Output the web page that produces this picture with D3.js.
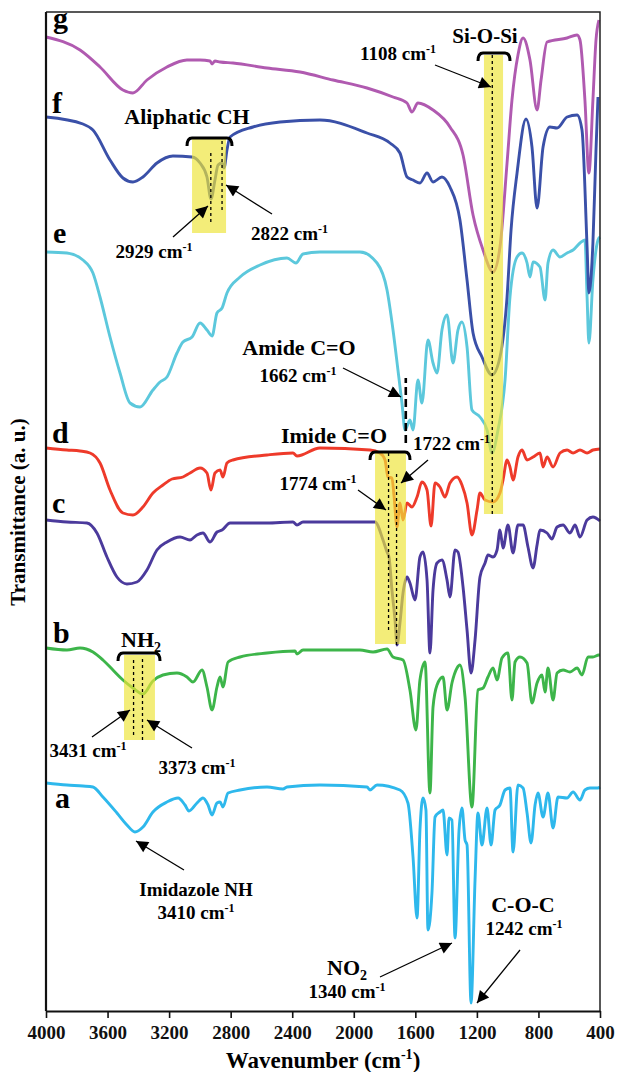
<!DOCTYPE html>
<html>
<head>
<meta charset="utf-8">
<script src="https://cdn.jsdelivr.net/npm/d3@7"></script>
<style>
  body { margin: 0; background: #fff; }
  svg { display: block; font-family: 'Liberation Serif', 'Times New Roman', serif; font-weight: bold; }
</style>
</head>
<body>
<svg id="chart" width="617" height="1072"></svg>
<script>
// spectra as [wavenumber (cm-1), transmittance (a.u., offset per trace)]

const spec_a = [[4000,228],[3864,226],[3760,225],[3695,224],[3630,214],[3539,198],[3474,186],[3422,179],[3370,184],[3305,199],[3214,209],[3142,213],[3097,206],[3071,200],[3019,208],[2980,213],[2947,206],[2921,196],[2889,208],[2869,209],[2850,204],[2817,218],[2739,221],[2564,224],[2460,222],[2434,224],[2220,226],[1914,224],[1895,221],[1849,226],[1700,221],[1648,208],[1615,154],[1589,93],[1570,181],[1550,213],[1531,201],[1518,81],[1492,118],[1472,194],[1440,199],[1420,201],[1394,156],[1381,193],[1362,191],[1342,73],[1316,181],[1297,203],[1277,171],[1264,166],[1238,8],[1212,131],[1193,198],[1167,166],[1134,203],[1108,166],[1082,201],[1050,206],[1017,221],[985,223],[965,159],[933,226],[900,223],[874,198],[848,168],[822,206],[803,218],[770,194],[738,218],[705,183],[673,214],[614,213],[575,219],[530,211],[498,221],[465,223],[413,223],[400,224]]

const spec_b = [[4000,363],[3864,361],[3779,363],[3695,359],[3630,351],[3565,341],[3500,331],[3435,323],[3370,317],[3305,330],[3240,336],[3149,338],[3084,334],[3045,329],[2986,341],[2954,324],[2921,301],[2889,324],[2869,334],[2850,324],[2817,349],[2739,354],[2564,358],[2382,360],[2369,357],[2330,361],[1960,361],[1875,359],[1784,362],[1745,354],[1680,351],[1635,321],[1596,281],[1570,331],[1537,349],[1505,218],[1485,304],[1459,326],[1420,334],[1394,301],[1362,328],[1329,343],[1310,346],[1277,314],[1232,204],[1193,321],[1160,323],[1128,334],[1095,343],[1069,331],[1037,353],[998,358],[972,311],[952,349],[920,354],[874,348],[842,308],[809,328],[777,336],[757,319],[738,343],[705,311],[679,338],[640,341],[595,339],[549,343],[517,336],[478,354],[446,354],[407,356],[400,356]]

const spec_c = [[4000,491],[3864,489],[3734,488],[3669,478],[3604,454],[3539,434],[3474,427],[3409,429],[3344,441],[3279,461],[3214,469],[3129,474],[3064,471],[3019,476],[2980,478],[2934,469],[2889,479],[2856,481],[2804,488],[2564,488],[2395,489],[2369,486],[2330,489],[2135,489],[1862,489],[1810,471],[1784,459],[1771,454],[1752,421],[1732,391],[1719,366],[1700,388],[1680,418],[1654,434],[1635,428],[1602,411],[1570,454],[1550,459],[1524,431],[1505,358],[1485,421],[1459,448],[1427,451],[1394,431],[1375,414],[1342,461],[1323,459],[1290,424],[1264,381],[1238,338],[1212,371],[1180,434],[1147,448],[1128,456],[1095,454],[1069,461],[1050,481],[1030,463],[998,486],[965,458],[933,486],[900,486],[868,464],[835,443],[809,466],[790,481],[744,478],[712,472],[679,484],[640,486],[595,478],[562,486],[530,474],[484,491],[446,494],[400,490]]

const spec_d = [[4000,563],[3864,561],[3779,560],[3714,558],[3649,548],[3584,521],[3500,498],[3435,496],[3370,504],[3305,518],[3240,526],[3181,532],[3110,534],[3064,538],[2999,543],[2954,538],[2928,521],[2902,538],[2869,541],[2850,534],[2824,548],[2785,551],[2564,556],[2395,558],[2369,555],[2220,563],[1895,561],[1830,558],[1797,551],[1778,534],[1752,533],[1739,516],[1719,484],[1700,508],[1680,491],[1654,508],[1622,504],[1589,514],[1557,529],[1524,521],[1498,485],[1472,528],[1440,524],[1407,514],[1375,528],[1329,534],[1297,526],[1264,508],[1232,476],[1199,501],[1180,518],[1147,511],[1095,509],[1050,518],[1030,531],[1004,551],[985,544],[965,531],[933,554],[907,561],[874,551],[835,554],[790,558],[770,544],[744,554],[705,544],[660,558],[614,561],[575,558],[530,561],[484,558],[446,561],[400,562]]

const spec_e = [[4000,759],[3864,758],[3760,751],[3695,738],[3649,714],[3584,674],[3519,638],[3454,608],[3389,604],[3305,621],[3259,629],[3214,634],[3149,658],[3110,669],[3051,674],[2999,688],[2954,681],[2921,675],[2889,698],[2856,703],[2824,718],[2739,734],[2609,746],[2434,753],[2376,748],[2330,757],[2220,759],[1960,759],[1849,748],[1784,721],[1745,681],[1713,641],[1687,608],[1667,581],[1635,591],[1615,581],[1583,631],[1557,608],[1518,671],[1485,648],[1459,638],[1427,681],[1394,696],[1355,648],[1323,681],[1297,689],[1264,664],[1232,601],[1180,594],[1134,581],[1102,558],[1063,581],[1017,631],[985,714],[939,754],[907,758],[874,748],[855,734],[835,749],[790,744],[757,711],[738,748],[705,761],[660,754],[614,758],[575,761],[530,768],[498,771],[484,714],[472,668],[446,731],[413,771],[400,774]]

const spec_f = [[4000,894],[3760,887],[3695,881],[3584,851],[3500,833],[3435,829],[3370,834],[3279,848],[3175,855],[3051,854],[2999,848],[2954,834],[2928,812],[2902,831],[2882,846],[2856,848],[2843,843],[2824,861],[2804,874],[2655,884],[2479,889],[2220,891],[1914,878],[1765,868],[1700,858],[1654,834],[1615,831],[1570,828],[1524,838],[1485,829],[1427,834],[1375,824],[1310,791],[1264,731],[1225,678],[1167,654],[1102,636],[1050,654],[1004,714],[978,781],[939,838],[881,892],[842,864],[809,803],[770,864],[725,884],[679,883],[614,894],[549,896],[517,881],[484,764],[472,718],[446,768],[426,861],[413,914]]

const spec_g = [[4000,974],[3779,961],[3649,944],[3500,921],[3435,918],[3344,931],[3214,944],[3084,951],[2999,951],[2934,950],[2921,947],[2902,950],[2869,949],[2785,948],[2564,943],[2349,939],[2135,931],[1914,923],[1745,914],[1654,908],[1622,899],[1583,908],[1485,901],[1375,884],[1290,856],[1225,796],[1160,761],[1095,739],[1050,764],[1004,848],[972,911],[933,956],[900,973],[855,951],[809,901],[783,931],[744,969],[614,973],[549,976],[530,971],[498,911],[472,838],[446,911],[426,971],[407,991]]

const series_keys = ['a', 'b', 'c', 'd', 'e', 'f', 'g']
const series_data = [spec_a, spec_b, spec_c, spec_d, spec_e, spec_f, spec_g]
const series_colors = ['#2EB8EC', '#3DB54A', '#4B3A9C', '#EE3A2A', '#5CC8DC', '#3A50A8', '#B05AB0']

const wn_ticks = [4000, 3600, 3200, 2800, 2400, 2000, 1600, 1200, 800, 400]

// highlighted regions: [wn from, wn to, t low, t high]
const bands = [[3493, 3292, 271, 356], [3051, 2830, 778, 873], [1862, 1661, 367, 559], [1154, 1030, 497, 956]]
// marker lines: [wn, t low, t high]
const marker_lines = [[3431, 276, 353], [3373, 271, 353], [2929, 789, 858], [2856, 801, 871], [1774, 381, 561], [1722, 366, 538], [1100, 497, 956]]
const amide_line = [1662, 568, 633]


const W = 617, H = 1072
const M = { top: 12, left: 46, right: 17, bottom: 61 }

const svg = d3.select('#chart')
const x = d3.scaleLinear().domain([4000, 400]).range([M.left, W - M.right])
const y = d3.scaleLinear().domain([0, 1000]).range([H - M.bottom, H - M.bottom - 1000])

const defs = svg.append('defs')
defs.append('marker')
  .attr('id', 'arr').attr('viewBox', '0 0 10 10').attr('refX', 10).attr('refY', 5)
  .attr('markerWidth', 15).attr('markerHeight', 12).attr('markerUnits', 'userSpaceOnUse')
  .attr('orient', 'auto')
  .append('path').attr('d', 'M0,0L10,5L0,10Z').attr('fill', '#000')

// spectra
const line = d3.line()
  .x(d => x(d[0]))
  .y(d => y(d[1]))
  .curve(d3.curveMonotoneX)

svg.append('g').selectAll('path')
  .data(series_data)
  .join('path')
  .attr('d', line)
  .attr('fill', 'none')
  .attr('stroke', (d, i) => series_colors[i])
  .attr('stroke-width', 2.9)
  .attr('stroke-linejoin', 'round')

// yellow bands on top, semi transparent so traces tint through
svg.append('g').selectAll('rect')
  .data(bands)
  .join('rect')
  .attr('x', d => x(d[0]))
  .attr('width', d => x(d[1]) - x(d[0]))
  .attr('y', d => y(d[3]))
  .attr('height', d => y(d[2]) - y(d[3]))
  .attr('fill', '#EEE43A')
  .attr('opacity', 0.68)

svg.append('g').selectAll('line')
  .data(marker_lines)
  .join('line')
  .attr('x1', d => x(d[0])).attr('x2', d => x(d[0]))
  .attr('y1', d => y(d[1])).attr('y2', d => y(d[2]))
  .attr('stroke', '#000').attr('stroke-width', 1.3).attr('stroke-dasharray', '3,3')

svg.append('line')
  .attr('x1', x(amide_line[0])).attr('x2', x(amide_line[0]))
  .attr('y1', y(amide_line[1])).attr('y2', y(amide_line[2]))
  .attr('stroke', '#000').attr('stroke-width', 2.6).attr('stroke-dasharray', '8,4')

// frame
const x0 = M.left, x1 = W - M.right, y0 = M.top, y1 = H - M.bottom
svg.append('path')
  .attr('d', 'M' + x0 + ',' + y0 + 'H' + x1 + 'V' + y1)
  .attr('fill', 'none').attr('stroke', '#222').attr('stroke-width', 1.5)
svg.append('line')
  .attr('x1', x0).attr('x2', x0).attr('y1', y0).attr('y2', y1)
  .attr('stroke', '#111').attr('stroke-width', 2.2)

const xAxis = svg.append('g')
  .attr('transform', 'translate(0,' + y1 + ')')
  .call(d3.axisBottom(x).tickValues(wn_ticks).tickSize(7).tickSizeOuter(0).tickPadding(8).tickFormat(d3.format('d')))
xAxis.select('.domain').attr('stroke', '#111').attr('stroke-width', 2.2)
xAxis.selectAll('.tick line').attr('stroke', '#111').attr('stroke-width', 1.6)
xAxis.selectAll('.tick text')
  .attr('font-family', "'Liberation Serif', 'Times New Roman', serif")
  .attr('font-weight', 'bold').attr('font-size', 19).attr('fill', '#111')

// axis titles
const xt = svg.append('text')
  .attr('x', (x0 + x1) / 2).attr('y', 1068)
  .attr('text-anchor', 'middle').attr('font-size', 23)
xt.append('tspan').text('Wavenumber (cm')
xt.append('tspan').attr('dy', -9).attr('font-size', 14).text('-1')
xt.append('tspan').attr('dy', 9).text(')')

svg.append('text')
  .attr('transform', 'translate(25,512) rotate(-90)')
  .attr('text-anchor', 'middle').attr('font-size', 21)
  .text('Transmittance (a. u.)')

// trace letters
const letter_pos = [[55, 808], [53, 643], [52, 513], [52, 443], [53, 243], [52, 113], [53, 28]]
svg.append('g').selectAll('text')
  .data(series_keys)
  .join('text')
  .attr('x', (d, i) => letter_pos[i][0])
  .attr('y', (d, i) => letter_pos[i][1])
  .attr('font-size', 30)
  .text(d => d)

// annotations
const ann = svg.append('g')

function label(xp, yp, txt, size, anchor) {
  return ann.append('text').attr('x', xp).attr('y', yp)
    .attr('text-anchor', anchor || 'middle').attr('font-size', size || 21)
    .text(txt)
}

function wnLabel(xp, yp, n, anchor) {
  let t = ann.append('text').attr('x', xp).attr('y', yp)
    .attr('text-anchor', anchor || 'middle').attr('font-size', 19)
  t.append('tspan').text(n + ' cm')
  t.append('tspan').attr('dy', -7).attr('font-size', 12).text('-1')
}

function subLabel(xp, yp, main, sub) {
  let t = ann.append('text').attr('x', xp).attr('y', yp)
    .attr('text-anchor', 'middle').attr('font-size', 22)
  t.append('tspan').text(main)
  t.append('tspan').attr('dy', 5).attr('font-size', 14).text(sub)
}

function arrow(xa, ya, xb, yb) {
  ann.append('line')
    .attr('x1', xa).attr('y1', ya).attr('x2', xb).attr('y2', yb)
    .attr('stroke', '#000').attr('stroke-width', 1.3)
    .attr('marker-end', 'url(#arr)')
}

function brace(xa, xb, yb) {
  ann.append('path')
    .attr('d', 'M' + xa + ',' + (yb + 8) + 'Q' + xa + ',' + yb + ' ' + (xa + 5) + ',' + yb +
               'H' + (xb - 5) + 'Q' + xb + ',' + yb + ' ' + xb + ',' + (yb + 8))
    .attr('fill', 'none').attr('stroke', '#000').attr('stroke-width', 3)
}

// Si-O-Si
label(485, 43, 'Si-O-Si')
brace(478, 510, 53)
wnLabel(360, 60, 1108, 'start')
arrow(435, 65, 491, 87)

// aliphatic CH
label(187, 124, 'Aliphatic CH', 22)
brace(187, 232, 138)
wnLabel(154, 258, 2929)
arrow(173, 237, 208, 206)
wnLabel(251, 240, 2822, 'start')
arrow(272, 214, 226, 185)

// amide
label(299, 355, 'Amide C=O', 22)
wnLabel(298, 382, 1662)
arrow(343, 368, 401, 397)

// imide
label(334, 443, 'Imide C=O', 22)
brace(370, 410, 452)
wnLabel(413, 450, 1722, 'start')
arrow(428, 460, 401, 483)
wnLabel(318, 490, 1774)
arrow(358, 490, 386, 510)

// NH2
subLabel(141, 647, 'NH', '2')
brace(118, 160, 653)
wnLabel(88, 757, 3431)
arrow(92, 737, 130, 710)
wnLabel(197, 774, 3373)
arrow(192, 748, 147, 720)

// imidazole
label(196, 896, 'Imidazole NH', 19)
wnLabel(196, 919, 3410)
arrow(184, 870, 136, 841)

// NO2
subLabel(347, 975, 'NO', '2')
wnLabel(347, 998, 1340)
arrow(380, 977, 452, 943)

// C-O-C
label(523, 912, 'C-O-C', 22)
wnLabel(524, 935, 1242)
arrow(520, 950, 477, 1003)
</script>
</body>
</html>
